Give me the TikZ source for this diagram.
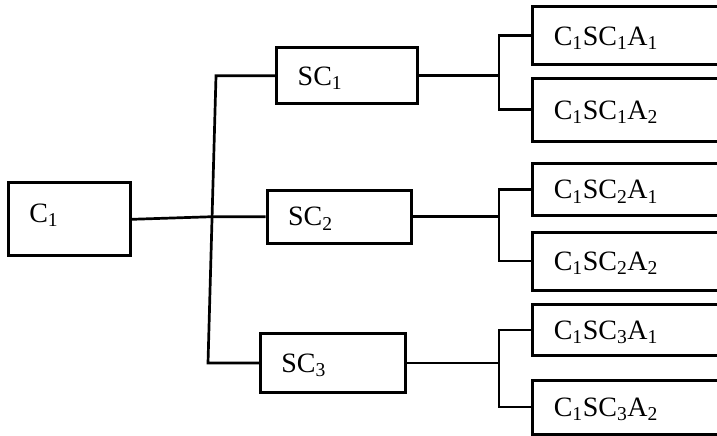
\documentclass[tikz,border=0pt]{standalone}
\usepackage{fontspec}
\setmainfont{Liberation Serif}
\tikzset{
  box/.style={draw,rectangle,line width=3pt,align=left,inner xsep=21pt,inner ysep=0pt,
    text height=18.5pt,text depth=0pt,font=\fontsize{28}{34}\selectfont},
  leaf/.style={box,text width=170pt},
  link/.style={line width=2.7pt}
}
\newcommand{\low}[1]{\textsubscript{#1}}

\begin{document}
\begin{tikzpicture}[x=1pt,y=-1pt]
      \useasboundingbox (0,0) rectangle (717,436);
      \clip (0,0) rectangle (717,436);
      \node[box,text width=80.4pt,minimum height=73pt,text depth=13pt] (c1) at (69.5,219.3) {C\low{1}};
      \node[box,text width=98.6pt,minimum height=56.3pt] (sc1) at (347,75.8) {SC\low{1}};
      \node[box,text width=102pt,minimum height=53.3pt] (sc2) at (339,216.7) {SC\low{2}};
      \node[box,text width=103.4pt,minimum height=58.6pt] (sc3) at (333,363) {SC\low{3}};
      \node[leaf,minimum height=57.7pt] (a11) at (638.8,35.8) {C\low{1}SC\low{1}A\low{1}};
      \node[leaf,minimum height=63pt] (a12) at (638.8,109.8) {C\low{1}SC\low{1}A\low{2}};
      \node[leaf,minimum height=52.4pt] (a21) at (638.8,189.5) {C\low{1}SC\low{2}A\low{1}};
      \node[leaf,minimum height=58pt] (a22) at (638.8,261) {C\low{1}SC\low{2}A\low{2}};
      \node[leaf,minimum height=51.4pt] (a31) at (638.8,330) {C\low{1}SC\low{3}A\low{1}};
      \node[leaf,minimum height=54pt] (a32) at (638.8,407) {C\low{1}SC\low{3}A\low{2}};
      \coordinate (t1) at (216,75.8);
      \coordinate (t2) at (212.1,216.7);
      \coordinate (t3) at (208,363);
      \coordinate (b1) at (499,75.8);
      \coordinate (b2) at (499,216.7);
      \coordinate (b3) at (499,363);
      \begin{scope}[link]
        \draw (sc1.west) -- (t1) -- (t3) -- (sc3.west);
        \draw (c1.east) -- (t2) -- (sc2.west);
        \draw (sc1.east) -- (b1);
        \draw (sc2.east) -- (b2);
        \draw (sc3.east) -- (b3);
        \draw (a11.west) -| (b1) |- (a12.west);
        \draw (a21.west) -| (b2) |- (a22.west);
        \draw (a31.west) -| (b3) |- (a32.west);
      \end{scope}
    \end{tikzpicture}
\end{document}
